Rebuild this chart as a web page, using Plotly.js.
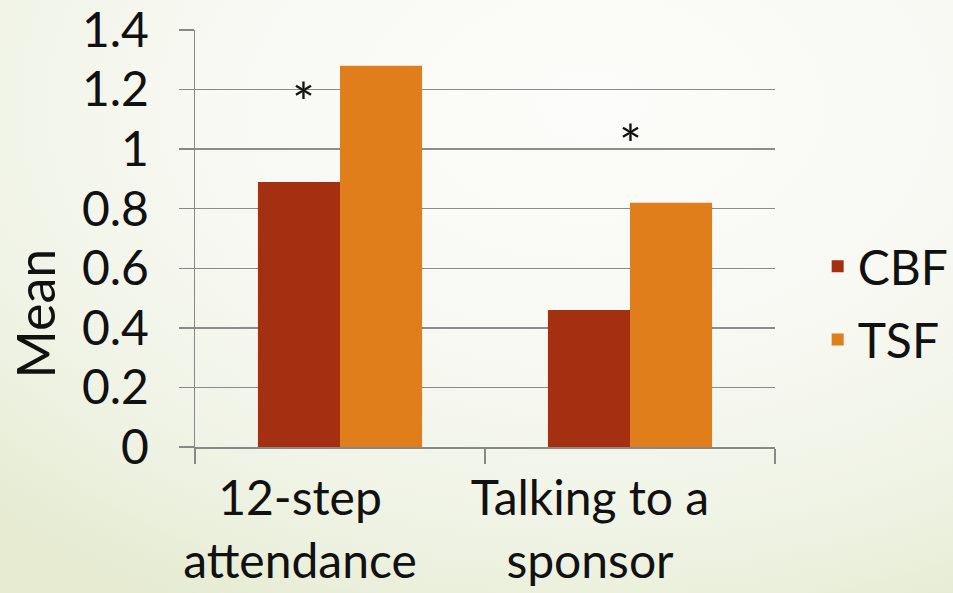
<!DOCTYPE html>
<html>
<head>
<meta charset="utf-8">
<script src="https://cdn.plot.ly/plotly-3.0.1.min.js"></script>
<style>
  html, body { margin: 0; padding: 0; width: 953px; height: 593px; overflow: hidden; }
  body { background: radial-gradient(ellipse 90% 95% at 62% 18%, #fcfcfa 0%, #f8f9f3 45%, #eef2e2 80%, #e6ebd2 100%); }
  #chart { width: 953px; height: 593px; }
</style>
</head>
<body>
<div id="chart"></div>
<script>
const categories = ["12-step<br>attendance", "Talking to a<br>sponsor"];
const seriesNames = ["CBF", "TSF"];
const cbfValues = [0.89, 0.46];
const tsfValues = [1.28, 0.82];
const seriesColors = ["#a52f11", "#df7e1a"];
const sigLabels = ["*", "*"];
const sigY = [1.16, 1.02];
const sigXShift = [-37, 0];
const yTickValues = [0, 0.2, 0.4, 0.6, 0.8, 1, 1.2, 1.4];
const yTickLabels = ["0", "0.2", "0.4", "0.6", "0.8", "1", "1.2", "1.4"];
const yTitle = "Mean";

const FONT = "Lato, 'Open Sans', sans-serif";
const FS = 48;

const traces = [
  { type: "bar", name: seriesNames[0], legendgroup: "a", x: categories, y: cbfValues, marker: { color: seriesColors[0] }, hoverinfo: "skip" },
  { type: "bar", name: seriesNames[1], legendgroup: "b", x: categories, y: tsfValues, marker: { color: seriesColors[1] }, hoverinfo: "skip" }
];

const annotations = categories.map((c, i) => ({
  x: c, y: sigY[i], xref: "x", yref: "y", text: sigLabels[i], showarrow: false,
  xshift: sigXShift[i], font: { family: FONT, size: 54, color: "#111" }, yanchor: "middle"
}));
annotations.push({
  xref: "paper", yref: "paper", x: -0.276, y: 0.32, text: yTitle, textangle: -90, showarrow: false,
  xanchor: "center", yanchor: "middle", font: { family: FONT, size: 52, color: "#111" }
});

const layout = {
  width: 953, height: 593,
  paper_bgcolor: "rgba(0,0,0,0)", plot_bgcolor: "rgba(0,0,0,0)",
  margin: { l: 195, r: 178, t: 30, b: 146 },
  font: { family: FONT, size: FS, color: "#111" },
  barmode: "group", bargap: 0.434, bargroupgap: 0,
  showlegend: true,
  legend: { xref: "container", yref: "container", x: 0.858, xanchor: "left", y: 0.489, yanchor: "middle",
            traceorder: "grouped", tracegroupgap: 8,
            font: { family: FONT, size: FS, color: "#111" }, bgcolor: "rgba(0,0,0,0)", itemwidth: 30 },
  xaxis: {
    type: "category", tickson: "boundaries", ticks: "outside", ticklen: 15, tickwidth: 1.5, tickcolor: "#888",
    showline: true, linecolor: "#888", linewidth: 1.5, showgrid: false,
    tickfont: { family: FONT, size: FS, color: "#111" }, ticklabelstandoff: 9, ticklabelshift: -40,
    ticklabeloverflow: "allow"
  },
  yaxis: {
    range: [0, 1.4], tickmode: "array", tickvals: yTickValues, ticktext: yTickLabels,
    ticks: "outside", ticklen: 15, tickwidth: 1.5, tickcolor: "#888",
    showline: true, linecolor: "#888", linewidth: 1.5, showgrid: true, gridcolor: "#8c8c8c", gridwidth: 1.5,
    zeroline: false, tickfont: { family: FONT, size: FS, color: "#111" }, ticklabelstandoff: 20,
    ticklabeloverflow: "allow"
  },
  annotations: annotations
};

Plotly.newPlot("chart", traces, layout, { displayModeBar: false, staticPlot: true });
</script>
</body>
</html>
